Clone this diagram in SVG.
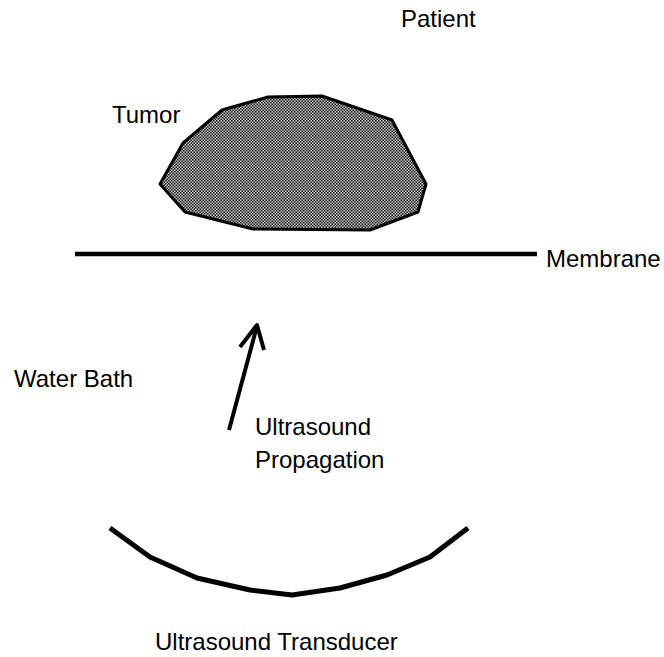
<svg xmlns="http://www.w3.org/2000/svg" width="664" height="657" viewBox="0 0 664 657">
<style>
text{font-family:"Liberation Sans",Arial,sans-serif;font-size:24px;fill:#000}
.ln{fill:none;stroke:#000;stroke-linecap:butt;stroke-linejoin:round}
</style>
<defs>
<pattern id="dots" width="3" height="3" patternUnits="userSpaceOnUse">
<rect width="3" height="3" fill="#c4c4c4"/>
<rect x="0" y="0" width="1.5" height="1.5" fill="#1a1a1a"/>
<rect x="1.5" y="1.5" width="1.5" height="1.5" fill="#1a1a1a"/>
</pattern>
</defs>
<rect width="664" height="657" fill="#fff"/>
<g id="tumor">
<polygon points="268,97 322,96 392,120 426,184 418,212 370,230 253,229 185,212 160,184 183,143 222,110" fill="url(#dots)" stroke="#000" stroke-width="3" stroke-linejoin="round"/>
</g>
<g id="membrane">
<line x1="75" y1="254" x2="537" y2="254" class="ln" stroke-width="4.5"/>
</g>
<g id="transducer">
<polyline class="ln" stroke-width="5" points="110,528 150,557 197,578 250,590 292,595 340,588 387,575 430,557 468,528"/>
</g>
<g id="connectors">
<line x1="229" y1="430" x2="257" y2="326" class="ln" stroke-width="4"/>
<polyline class="ln" stroke-width="4" points="240,347 257,325 264,350"/>
</g>
<g id="labels">
<text x="401" y="27">Patient</text>
<text x="112" y="123">Tumor</text>
<text x="546" y="267">Membrane</text>
<text x="14" y="387">Water Bath</text>
<text x="255" y="435">Ultrasound</text>
<text x="255" y="468">Propagation</text>
<text x="155" y="650">Ultrasound Transducer</text>
</g>
</svg>
